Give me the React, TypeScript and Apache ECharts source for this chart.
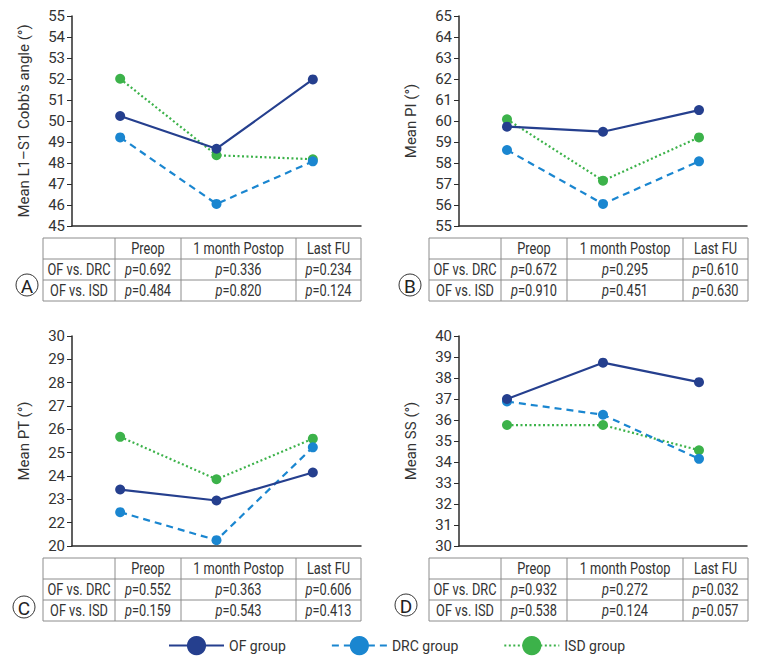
import React, { useEffect, useRef } from 'react';
import * as echarts from 'echarts';

const categories = ['Preop', '1 month Postop', 'Last FU'];
const groupNames = ['OF group', 'DRC group', 'ISD group'];
const groupColors = ['#253f8e', '#1a86d0', '#3cb24a'];

// Panel A: Mean L1–S1 Cobb's angle
const cobbOF = [50.24, 48.68, 51.98];
const cobbDRC = [49.22, 46.05, 48.08];
const cobbISD = [52.01, 48.37, 48.18];
// Panel B: Mean PI
const piOF = [59.73, 59.49, 60.52];
const piDRC = [58.62, 56.05, 58.08];
const piISD = [60.08, 57.16, 59.22];
// Panel C: Mean PT (axis units; lowest tick is labelled "20" on a broken axis)
const ptOF = [23.42, 22.95, 24.15];
const ptDRC = [22.45, 21.25, 25.23];
const ptISD = [25.68, 23.86, 25.6];
// Panel D: Mean SS
const ssOF = [37.0, 38.73, 37.8];
const ssDRC = [36.88, 36.25, 34.15];
const ssISD = [35.76, 35.76, 34.56];

const yNames = ["Mean L1\u2013S1 Cobb's angle (\u00b0)", 'Mean PI (\u00b0)', 'Mean PT (\u00b0)', 'Mean SS (\u00b0)'];
const yMins = [45, 55, 21, 30];
const yMaxs = [55, 65, 30, 40];
const panelLetters = ['A', 'B', 'C', 'D'];

const rowLabels = ['OF vs. DRC', 'OF vs. ISD'];
const pA = [['0.692', '0.336', '0.234'], ['0.484', '0.820', '0.124']];
const pB = [['0.672', '0.295', '0.610'], ['0.910', '0.451', '0.630']];
const pC = [['0.552', '0.363', '0.606'], ['0.159', '0.543', '0.413']];
const pD = [['0.932', '0.272', '0.032'], ['0.538', '0.124', '0.057']];

const FONT = "'Roboto', sans-serif";
const TXT = '#333333';
const SQ = 0.8;

export default function App() {
  const ref = useRef<HTMLDivElement>(null);
  useEffect(() => {
    if (!ref.current) return;
    const chart = echarts.init(ref.current, undefined, { renderer: 'svg' });

    const grids = [
      { left: 72, top: 16, width: 289, height: 210 },
      { left: 459, top: 16, width: 288, height: 210 },
      { left: 72, top: 336, width: 289, height: 210 },
      { left: 459, top: 336, width: 288, height: 210 },
    ];
    const panelData = [
      [cobbOF, cobbDRC, cobbISD],
      [piOF, piDRC, piISD],
      [ptOF, ptDRC, ptISD],
      [ssOF, ssDRC, ssISD],
    ];
    const pvals = [pA, pB, pC, pD];
    const tableCols = [
      [43, 115, 181, 296, 361],
      [429, 501, 567, 683, 748],
      [43, 115, 181, 296, 361],
      [429, 501, 567, 683, 748],
    ];
    const tableRows = [
      [238, 259, 280, 301],
      [238, 259, 280, 301],
      [558, 579, 600, 621],
      [558, 579, 600, 621],
    ];
    const circlePos = [
      [27, 285],
      [410, 285],
      [24, 607],
      [406, 605],
    ];

    const lineTypes: any[] = ['solid', [7, 5], [2, 2.5]];

    const series: any[] = [];
    panelData.forEach((groups, pi) => {
      groups.forEach((vals, gi) => {
        series.push({
          type: 'line',
          name: groupNames[gi],
          xAxisIndex: pi,
          yAxisIndex: pi,
          data: vals,
          symbol: 'circle',
          symbolSize: 10,
          itemStyle: { color: groupColors[gi] },
          lineStyle: { color: groupColors[gi], width: 2.2, type: lineTypes[gi] },
          z: 3 - gi,
        });
      });
    });

    const txt = (x: number, y: number, text: string, extra: any = {}) => ({
      type: 'text',
      x,
      y,
      scaleX: SQ,
      style: {
        text,
        fontSize: 16,
        fontFamily: FONT,
        fill: TXT,
        align: 'center',
        verticalAlign: 'middle',
        ...extra,
      },
    });

    const graphics: any[] = [];
    tableCols.forEach((cols, ti) => {
      const rows = tableRows[ti];
      const x0 = cols[0];
      const x1 = cols[cols.length - 1];
      rows.forEach((y) => {
        graphics.push({ type: 'line', shape: { x1: x0, y1: y, x2: x1, y2: y }, style: { stroke: '#8c8c8c', lineWidth: 1 } });
      });
      cols.forEach((x) => {
        graphics.push({ type: 'line', shape: { x1: x, y1: rows[0], x2: x, y2: rows[rows.length - 1] }, style: { stroke: '#8c8c8c', lineWidth: 1 } });
      });
      categories.forEach((c, ci) => {
        graphics.push(txt((cols[ci + 1] + cols[ci + 2]) / 2, (rows[0] + rows[1]) / 2 + 1, c));
      });
      rowLabels.forEach((r, ri) => {
        const yc = (rows[ri + 1] + rows[ri + 2]) / 2 + 1;
        graphics.push(txt((cols[0] + cols[1]) / 2, yc, r));
        pvals[ti][ri].forEach((v, ci) => {
          graphics.push(
            txt((cols[ci + 1] + cols[ci + 2]) / 2, yc, '{i|p}{n|=' + v + '}', {
              rich: {
                i: { fontStyle: 'italic', fontSize: 16, fontFamily: FONT, fill: TXT },
                n: { fontSize: 16, fontFamily: FONT, fill: TXT },
              },
            })
          );
        });
      });
      const [cx, cy] = circlePos[ti];
      graphics.push({ type: 'circle', shape: { cx, cy, r: 11 }, style: { fill: '#fff', stroke: '#333', lineWidth: 1 } });
      graphics.push({
        type: 'text',
        x: cx,
        y: cy + 1,
        style: { text: panelLetters[ti], fontSize: 19, fontFamily: FONT, fill: '#222', align: 'center', verticalAlign: 'middle' },
      });
    });

    const option: any = {
      animation: false,
      backgroundColor: '#fff',
      grid: grids.map((g) => ({ ...g, containLabel: false })),
      xAxis: grids.map((_, i) => ({
        type: 'category',
        gridIndex: i,
        data: categories,
        boundaryGap: true,
        axisLine: { show: true, lineStyle: { color: '#2b2b2b', width: 1.5 } },
        axisTick: { show: false },
        axisLabel: { show: false },
        splitLine: { show: false },
      })),
      yAxis: grids.map((_, i) => ({
        type: 'value',
        gridIndex: i,
        min: yMins[i],
        max: yMaxs[i],
        interval: 1,
        name: yNames[i],
        nameLocation: 'middle',
        nameGap: 41,
        nameRotate: 90,
        nameTextStyle: { fontSize: 15, fontFamily: FONT, color: TXT },
        axisLine: { show: true, lineStyle: { color: '#2b2b2b', width: 1.5 } },
        axisTick: { show: true, length: 5, lineStyle: { color: '#2b2b2b', width: 1 } },
        axisLabel: {
          margin: 7,
          fontSize: 15,
          fontFamily: FONT,
          color: TXT,
          formatter: (v: number) => (i === 2 && v === 21 ? '20' : String(v)),
        },
        splitLine: { show: false },
      })),
      legend: {
        data: groupNames,
        left: 163,
        top: 631,
        itemWidth: 55,
        itemHeight: 24,
        itemGap: 45,
        textStyle: { fontSize: 14, fontFamily: FONT, color: TXT },
      },
      series,
      graphic: graphics,
    };
    chart.setOption(option);
    return () => chart.dispose();
  }, []);
  return <div ref={ref} style={{ position: 'absolute', left: 0, top: 0, width: 757, height: 662 }} />;
}
